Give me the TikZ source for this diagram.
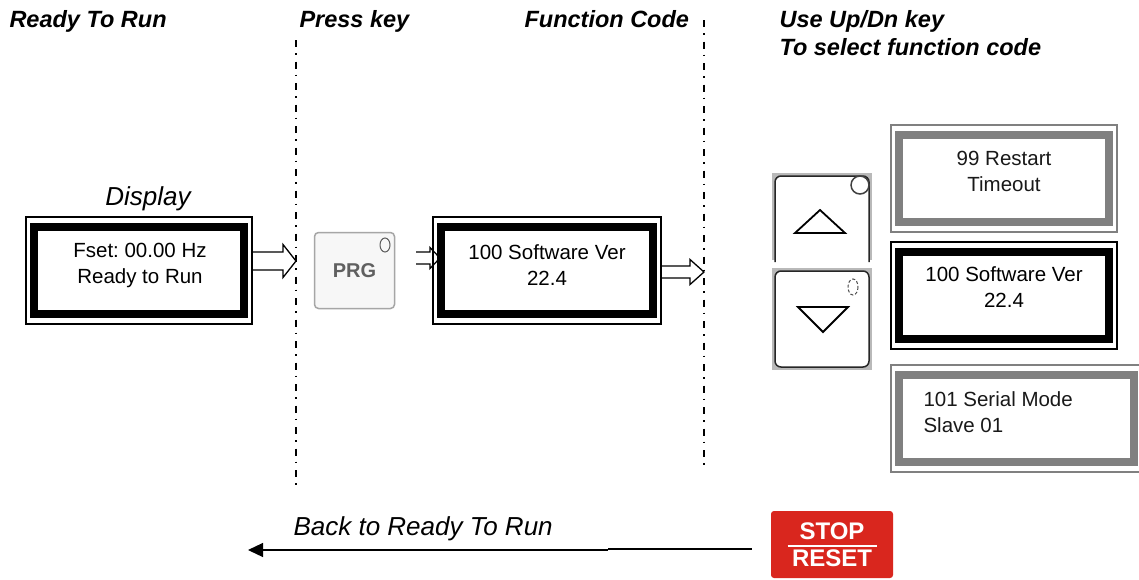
\documentclass[tikz,border=0pt]{standalone}
\usepackage{fontspec}
\setmainfont{Liberation Sans}
\usetikzlibrary{calc, arrows.meta}
\frenchspacing

\definecolor{stopred}{RGB}{217,38,30}
\definecolor{lcdgray}{RGB}{128,128,128}

% hollow block arrow: start, tip, half shaft width, half head width, head length
\newcommand{\fatarrow}[5]{%
\draw [line width=1.3pt,line join=miter]
  ($(#1)+(0,-#3)$) -- ($(#2)+(-#5,-#3)$) -- ($(#2)+(-#5,-#4)$) -- (#2)
  -- ($(#2)+(-#5,#4)$) -- ($(#2)+(-#5,#3)$) -- ($(#1)+(0,#3)$);}

\begin{document}
\begin{tikzpicture}[x=1pt,y=-1pt,
  lcd/.style={draw=#1,line width=1.5pt,minimum width=226pt,minimum height=107pt,inner sep=0pt,
    path picture={\draw [#1,line width=8pt]
      ([shift={(8,10)}]path picture bounding box.north west) rectangle
      ([shift={(-8,-10)}]path picture bounding box.south east);}},
  lcd/.default=black,
  lcdtxt/.style={align=center,font=\fontsize{20.5}{26}\selectfont},
  head/.style={anchor=base west,font=\fontsize{23.5}{28}\selectfont\bfseries\itshape},
  note/.style={font=\fontsize{26}{30}\selectfont\itshape},
  sep/.style={line width=1.3pt,dash pattern=on 7pt off 6pt on 1.5pt off 7pt}]

\useasboundingbox [fill=white] (0,0) rectangle (1139,579);

\node (hrun) at (6,27) [head] {Ready To Run};
\node (hkey) at (296,27) [head] {Press key};
\node (hcode) at (521,27) [head] {Function Code};
\node (hsel) at (776,27) [head] {Use Up/Dn key};
\node (hsel2) at (776,55) [head] {To select function code};

\coordinate (sepL) at (296,40);
\coordinate (sepLb) at (296,486);
\coordinate (sepR) at (704,20);
\coordinate (sepRb) at (704,465);
\draw [sep] (sepL) -- (sepLb);
\draw [sep] (sepR) -- (sepRb);

\node (hdisp) at (148,205) [note,anchor=base] {Display};
\node (disp) at (139,270.5) [lcd] {};
\node (disp-t) at (140,265) [lcdtxt] {Fset: 00.00 Hz\\Ready to Run};

\node (prg) at (354.5,270.5)
  [draw=gray!70,line width=1.5pt,fill=gray!6,rounded corners=4pt,
   minimum width=80pt,minimum height=76pt,text=gray!75!black,
   font=\fontsize{20}{24}\selectfont\bfseries] {PRG};
\draw [gray!70!black,line width=1pt] (385,245) ellipse (5 and 7);

\node (swver) at (547,270.5) [lcd,minimum width=228pt] {};
\node (swver-t) at (547,265) [lcdtxt] {100 Software Ver\\22.4};

\coordinate (a1s) at (disp.east |- 0,261);
\coordinate (a1t) at (sepL |- 0,261);
\fatarrow{a1s}{a1t}{9}{16.5}{13}
\coordinate (a2s) at (416,258);
\coordinate (a2t) at (440,258);
\fatarrow{a2s}{a2t}{6}{10.5}{10}
\coordinate (a3s) at (swver.east |- 0,272);
\coordinate (a3t) at (sepR |- 0,272);
\fatarrow{a3s}{a3t}{6}{12.5}{14}

% up / down keys
\fill [gray!55] (772,173) rectangle (872,260);
\draw [gray!30!black,line width=1.5pt,fill=white,rounded corners=6pt]
  (775,262) -- (775,176) -- (869,176) -- (869,262);
\draw [line width=1.8pt,line join=miter] (795,233) -- (820,210) -- (845,233) -- cycle;
\draw [gray!50!black,line width=1.5pt,fill=white] (860,185) circle (9);

\fill [gray!55] (772,268) rectangle (872,370);
\draw [gray!30!black,line width=1.5pt,fill=white,rounded corners=6pt]
  (775,271) rectangle (869,367);
\draw [line width=1.8pt,line join=miter] (798,307) -- (848,307) -- (823,332) -- cycle;
\draw [gray!60!black,line width=1pt,densely dashed] (853,287) ellipse (5 and 8);

\node (fprev) at (1004,178.5) [lcd=lcdgray] {};
\node (fprev-t) at (1004,171) [lcdtxt,text=gray!20!black] {99 Restart\\Timeout};
\node (fcur) at (1004,295.5) [lcd] {};
\node (fcur-t) at (1004,287) [lcdtxt] {100 Software Ver\\22.4};
\node (fnext) at (1016.5,418.5) [lcd=lcdgray,minimum width=251pt] {};
\node (fnext-t) at (920,412) [lcdtxt,align=left,anchor=west,text=gray!20!black] {101 Serial Mode\\Slave 01};

% stop / reset
\node (stop) at (832,544.5)
  [fill=stopred,rounded corners=3pt,minimum width=122pt,minimum height=67pt,
   text=white,align=center,font=\fontsize{24}{27}\selectfont\bfseries] {STOP\\RESET};
\draw [white,line width=1.5pt] ($(stop.center)+(-44.5,1.5)$) -- ($(stop.center)+(44.5,1.5)$);

\node (hback) at (290,535) [note,anchor=base west] {Back to Ready To Run};
\coordinate (retbrk) at (608,549);
\coordinate (retend) at (248,550);
\draw [line width=2pt] ([xshift=-19pt]stop.west |- retbrk) -- (retbrk);
\draw [line width=1.2pt,-{Triangle[length=15pt,width=14pt]}] (retbrk |- retend) -- (retend);

\end{tikzpicture}
\end{document}
